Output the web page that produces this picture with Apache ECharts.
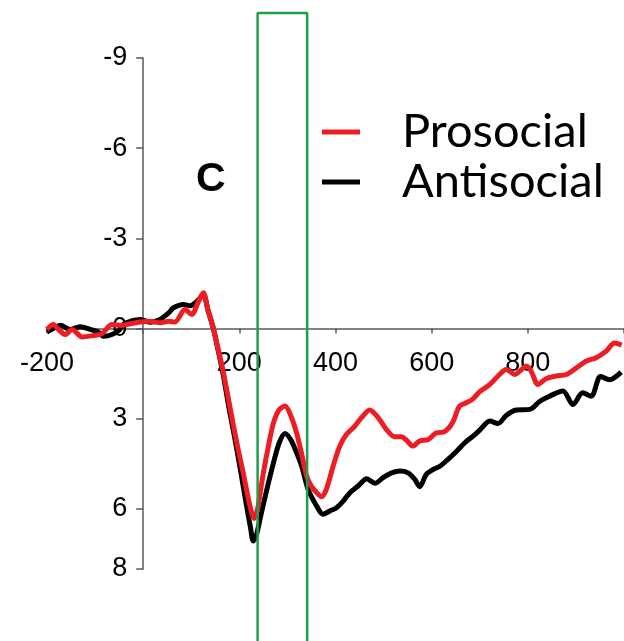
<!DOCTYPE html>
<html>
<head>
<meta charset="utf-8">
<script src="https://cdn.jsdelivr.net/npm/echarts@6/dist/echarts.min.js"></script>
<style>
html,body{margin:0;padding:0;background:#fff;}
#chart{width:624px;height:641px;}
</style>
</head>
<body>
<div id="chart"></div>
<script>
// Time (ms) and amplitude (µV)
const prosocialTime = [-200,-187,-175,-162,-148,-127,-103,-86,-65,-44,-27,-6,15,35,53,66,87,101,115,125,135,146,157,167,178,188,198,208,218,226,231,238,244,250,260,271,283,295,307,319,330,340,350,361,371,381,395,409,423,440,454,471,489,506,523,537,548,561,575,593,610,624,636,645,658,672,686,700,721,741,755,773,783,797,807,821,838,859,880,901,921,942,963,980,995];
const prosocialUv = [0.03,-0.13,0.05,0.2,0.03,0.28,0.23,0.18,-0.13,-0.1,-0.16,-0.22,-0.24,-0.19,-0.24,-0.22,-0.63,-0.47,-0.9,-1.19,-0.6,0.0,0.75,1.47,2.4,3.25,4.05,4.8,5.6,6.15,6.32,6.0,5.4,4.8,3.95,3.14,2.7,2.58,2.9,3.47,4.2,4.91,5.25,5.46,5.6,5.35,4.58,3.91,3.52,3.25,2.97,2.71,2.97,3.36,3.6,3.6,3.72,3.91,3.74,3.69,3.47,3.45,3.3,3.08,2.58,2.47,2.34,2.1,1.86,1.53,1.36,1.53,1.42,1.25,1.42,1.86,1.67,1.58,1.53,1.31,1.09,0.97,0.75,0.48,0.55];

const antisocialTime = [-200,-187,-172,-152,-131,-110,-95,-82,-65,-50,-40,-27,-6,15,35,53,63,84,98,108,118,125,135,146,157,167,178,190,201,215,223,229,235,246,258,271,283,295,307,319,330,343,361,374,388,402,416,430,447,465,482,499,517,534,551,565,575,589,603,617,634,652,669,686,700,721,738,755,776,804,825,845,873,894,914,932,951,970,994];
const antisocialUv = [0.12,0.0,-0.11,0.03,-0.06,0.03,0.1,0.26,0.2,0.05,-0.15,-0.24,-0.3,-0.21,-0.3,-0.52,-0.69,-0.8,-0.76,-0.85,-1.0,-1.15,-0.6,0.0,0.8,1.58,2.6,3.6,4.58,5.9,6.6,7.07,6.9,6.13,5.3,4.47,3.8,3.49,3.7,4.13,4.6,5.35,5.91,6.18,6.07,5.96,5.74,5.46,5.24,5.0,5.15,4.96,4.8,4.74,4.8,5.02,5.26,4.85,4.69,4.58,4.35,4.08,3.8,3.58,3.38,3.08,3.16,2.89,2.71,2.69,2.42,2.25,2.08,2.53,2.14,2.25,1.6,1.7,1.45];

// Highlighted analysis window (ms) and its vertical extent (µV)
const windowTime = [238, 238, 341, 341];
const windowUv = [11, -10.5, -10.5, 11];

const seriesNames = ['Prosocial', 'Antisocial'];
const yTickLabels = [-9, -6, -3, 0, 3, 6, 8];
const xTickLabels = [-200, 200, 400, 600, 800];

const zip = (a, b) => a.map((t, i) => [t, b[i]]);

const X_MIN = -200, X_MAX = 1000, Y_MIN = -9, Y_MAX = 8;
const GRID = {left: 47, right: 0, top: 58, bottom: 72};
const W = 624, H = 641;
const gridW = W - GRID.left - GRID.right;
const gridH = H - GRID.top - GRID.bottom;
// place axis lines on the zero of the other axis (axes cross at 0,0)
const yAxisOffset = -((0 - X_MIN) / (X_MAX - X_MIN)) * gridW;
const xAxisOffset = -((Y_MAX - 0) / (Y_MAX - Y_MIN)) * gridH;

const chart = echarts.init(document.getElementById('chart'), null, {renderer: 'canvas'});
const axisColor = '#5a5a5a';
chart.setOption({
  animation: false,
  backgroundColor: '#ffffff',
  title: {
    text: 'C',
    left: 196, top: 159, padding: 0,
    textStyle: {fontFamily: 'Liberation Sans', fontSize: 41, fontWeight: 'bold', color: '#000', lineHeight: 41}
  },
  legend: {
    data: seriesNames,
    orient: 'vertical',
    left: 322, top: 107,
    padding: 0,
    itemGap: 0,
    icon: 'rect',
    itemWidth: 38, itemHeight: 5,
    textStyle: {fontFamily: 'Lato', fontSize: 47, color: '#000', lineHeight: 50, padding: [0, 0, 0, 37]}
  },
  grid: {left: GRID.left, right: GRID.right, top: GRID.top, bottom: GRID.bottom, containLabel: false, outerBoundsMode: 'none'},
  xAxis: {
    type: 'value', min: X_MIN, max: X_MAX, interval: 200,
    position: 'bottom', offset: xAxisOffset,
    axisLine: {show: true, onZero: false, lineStyle: {color: axisColor, width: 1.5}},
    axisTick: {show: true, length: 5, inside: false, lineStyle: {color: axisColor, width: 1.5}},
    splitLine: {show: false},
    axisLabel: {
      margin: 22, fontFamily: 'Liberation Sans', fontSize: 27, color: '#000', lineHeight: 27,
      formatter: v => xTickLabels.indexOf(v) >= 0 ? String(v) : ''
    }
  },
  yAxis: {
    type: 'value', min: Y_MIN, max: Y_MAX, interval: 3, inverse: true,
    position: 'left', offset: yAxisOffset,
    axisLine: {show: true, onZero: false, lineStyle: {color: axisColor, width: 1.5}},
    axisTick: {show: true, length: 7, lineStyle: {color: axisColor, width: 1.5}},
    splitLine: {show: false},
    axisLabel: {
      margin: 16, fontFamily: 'Liberation Sans', fontSize: 27, color: '#000',
      formatter: v => yTickLabels.indexOf(v) >= 0 ? String(v) : ''
    }
  },
  series: [
    {
      name: seriesNames[1], type: 'line', data: zip(antisocialTime, antisocialUv),
      showSymbol: false, symbol: 'none', smooth: 0.3,
      lineStyle: {color: '#000000', width: 5}, itemStyle: {color: '#000000'}, z: 3
    },
    {
      name: seriesNames[0], type: 'line', data: zip(prosocialTime, prosocialUv),
      showSymbol: false, symbol: 'none', smooth: 0.3,
      lineStyle: {color: '#ee1c24', width: 5}, itemStyle: {color: '#ee1c24'}, z: 4
    },
    {
      name: 'window', type: 'line', data: zip(windowTime, windowUv),
      showSymbol: false, symbol: 'none', clip: false, silent: true,
      lineStyle: {color: '#1e9e4a', width: 2.5}, z: 5
    }
  ]
});
</script>
</body>
</html>
